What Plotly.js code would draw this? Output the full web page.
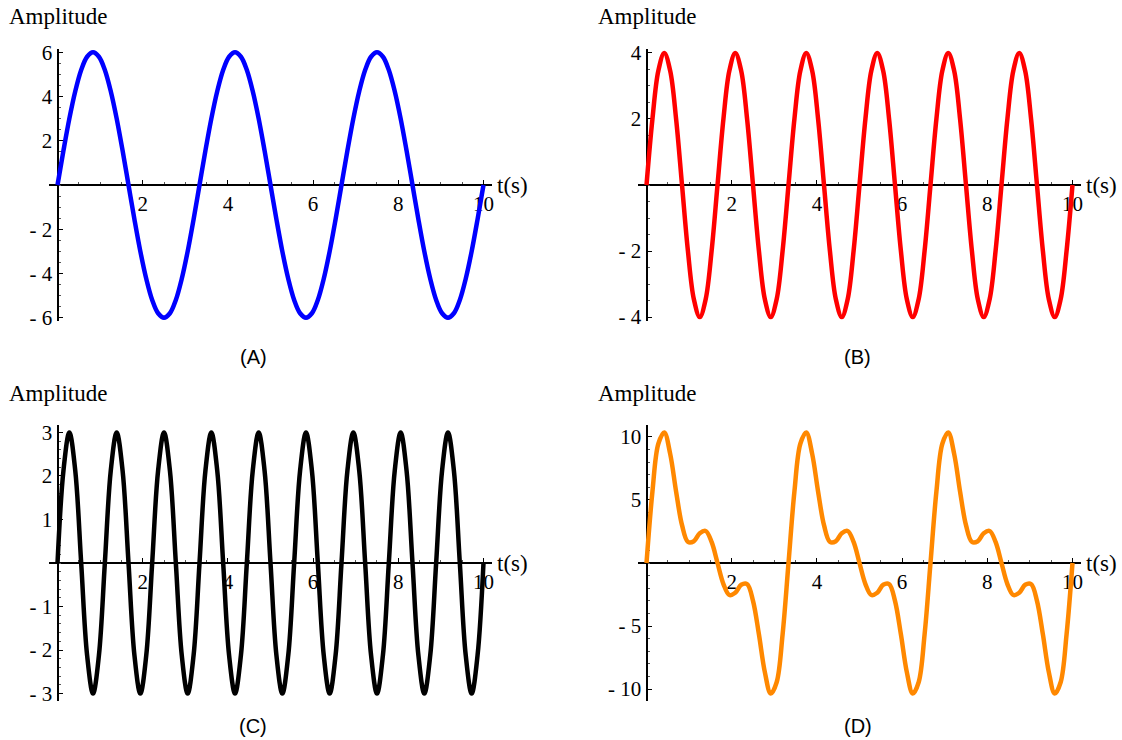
<!DOCTYPE html>
<html>
<head>
<meta charset="utf-8">
<script src="https://cdn.plot.ly/plotly-3.0.1.min.js"></script>
<style>
  html, body { margin: 0; padding: 0; background: #fff; }
  #chart { width: 1122px; height: 740px; }
</style>
</head>
<body>
<div id="chart"></div>
<script>
// Sampled signal values over 0..10 s, taken every 10/72 s.
const T_END = 10;

const waveA = [
  0, 1.55, 3, 4.24, 5.2, 5.8, 6, 5.8, 5.2, 4.24, 3, 1.55, 0, -1.55, -3, -4.24, -5.2, -5.8, -6, -5.8, -5.2, -4.24, -3, -1.55,
  0, 1.55, 3, 4.24, 5.2, 5.8, 6, 5.8, 5.2, 4.24, 3, 1.55, 0, -1.55, -3, -4.24, -5.2, -5.8, -6, -5.8, -5.2, -4.24, -3, -1.55,
  0, 1.55, 3, 4.24, 5.2, 5.8, 6, 5.8, 5.2, 4.24, 3, 1.55, 0, -1.55, -3, -4.24, -5.2, -5.8, -6, -5.8, -5.2, -4.24, -3, -1.55,
  0
];

const waveB = [
  0, 2, 3.46, 4, 3.46, 2, 0, -2, -3.46, -4, -3.46, -2,
  0, 2, 3.46, 4, 3.46, 2, 0, -2, -3.46, -4, -3.46, -2,
  0, 2, 3.46, 4, 3.46, 2, 0, -2, -3.46, -4, -3.46, -2,
  0, 2, 3.46, 4, 3.46, 2, 0, -2, -3.46, -4, -3.46, -2,
  0, 2, 3.46, 4, 3.46, 2, 0, -2, -3.46, -4, -3.46, -2,
  0, 2, 3.46, 4, 3.46, 2, 0, -2, -3.46, -4, -3.46, -2,
  0
];

const waveC = [
  0, 2.12, 3, 2.12, 0, -2.12, -3, -2.12,
  0, 2.12, 3, 2.12, 0, -2.12, -3, -2.12,
  0, 2.12, 3, 2.12, 0, -2.12, -3, -2.12,
  0, 2.12, 3, 2.12, 0, -2.12, -3, -2.12,
  0, 2.12, 3, 2.12, 0, -2.12, -3, -2.12,
  0, 2.12, 3, 2.12, 0, -2.12, -3, -2.12,
  0, 2.12, 3, 2.12, 0, -2.12, -3, -2.12,
  0, 2.12, 3, 2.12, 0, -2.12, -3, -2.12,
  0, 2.12, 3, 2.12, 0, -2.12, -3, -2.12,
  0
];

const waveD = [
  0, 5.67, 9.46, 10.36, 8.66, 5.67, 3, 1.67, 1.73, 2.36, 2.54, 1.67, 0, -1.67, -2.54, -2.36, -1.73, -1.67, -3, -5.67, -8.66, -10.36, -9.46, -5.67,
  0, 5.67, 9.46, 10.36, 8.66, 5.67, 3, 1.67, 1.73, 2.36, 2.54, 1.67, 0, -1.67, -2.54, -2.36, -1.73, -1.67, -3, -5.67, -8.66, -10.36, -9.46, -5.67,
  0, 5.67, 9.46, 10.36, 8.66, 5.67, 3, 1.67, 1.73, 2.36, 2.54, 1.67, 0, -1.67, -2.54, -2.36, -1.73, -1.67, -3, -5.67, -8.66, -10.36, -9.46, -5.67,
  0
];

// Tick values and their labels
const xTicks = [2, 4, 6, 8, 10];
const xTickText = ["2", "4", "6", "8", "10"];
const yTicksA = [-6, -4, -2, 2, 4, 6];
const yTextA = ["- 6", "- 4", "- 2", "2", "4", "6"];
const yTicksB = [-4, -2, 2, 4];
const yTextB = ["- 4", "- 2", "2", "4"];
const yTicksC = [-3, -2, -1, 1, 2, 3];
const yTextC = ["- 3", "- 2", "- 1", "1", "2", "3"];
const yTicksD = [-10, -5, 5, 10];
const yTextD = ["- 10", "- 5", "5", "10"];

const panelLabels = ["(A)", "(B)", "(C)", "(D)"];
const yTitle = "Amplitude";
const xTitle = "t(s)";

// ---- layout helpers ----
const W = 1122, H = 740;
const px = v => v / W;
const py = v => 1 - v / H;

const SERIF = "Liberation Serif, Times New Roman, serif";
const SANS = "Liberation Sans, Arial, sans-serif";

// pixel boxes for each panel: plot area, caption and letter placement
const panels = [
  { wave: waveA, color: "rgb(0,0,255)",   yt: yTicksA, ytx: yTextA, yr: 6.15,  ym: 0.5, xl: 49,  xr: 492,  yt0: 49,  yb0: 321, lx: 253, ly: 357, label: panelLabels[0] },
  { wave: waveB, color: "rgb(255,0,0)",   yt: yTicksB, ytx: yTextB, yr: 4.12,  ym: 0.5, xl: 638, xr: 1081, yt0: 49,  yb0: 321, lx: 858, ly: 357, label: panelLabels[1] },
  { wave: waveC, color: "rgb(0,0,0)",     yt: yTicksC, ytx: yTextC, yr: 3.17,  ym: 0.2, xl: 49,  xr: 492,  yt0: 425, yb0: 701, lx: 253, ly: 726, label: panelLabels[2] },
  { wave: waveD, color: "rgb(255,136,0)", yt: yTicksD, ytx: yTextD, yr: 10.95, ym: 1,   xl: 638, xr: 1081, yt0: 425, yb0: 701, lx: 858, ly: 726, label: panelLabels[3] }
];

const X_RANGE = [-0.2, 10.2];
const traces = [];
const layout = {
  width: W, height: H,
  margin: { l: 0, r: 0, t: 0, b: 0 },
  paper_bgcolor: "#fff",
  plot_bgcolor: "rgba(0,0,0,0)",
  showlegend: false,
  annotations: []
};

panels.forEach((p, i) => {
  const n = i + 1;
  const xa = n === 1 ? "xaxis" : "xaxis" + n;
  const ya = n === 1 ? "yaxis" : "yaxis" + n;
  const xd = [px(p.xl), px(p.xr)];
  const yd = [py(p.yb0), py(p.yt0)];
  const yRange = [-p.yr, p.yr];
  const xZeroPos = xd[0] + (0 - X_RANGE[0]) / (X_RANGE[1] - X_RANGE[0]) * (xd[1] - xd[0]);
  const yZeroPos = yd[0] + (0 - yRange[0]) / (yRange[1] - yRange[0]) * (yd[1] - yd[0]);

  const t = p.wave.map((_, k) => k * T_END / (p.wave.length - 1));
  traces.push({
    x: t, y: p.wave,
    xaxis: "x" + (n === 1 ? "" : n),
    yaxis: "y" + (n === 1 ? "" : n),
    type: "scatter", mode: "lines",
    line: { color: p.color, width: 4.5, shape: "spline", smoothing: 1 },
    hoverinfo: "skip"
  });

  layout[xa] = {
    domain: xd, range: X_RANGE,
    anchor: "free", position: yZeroPos, side: "bottom",
    showgrid: false, zeroline: false,
    showline: true, linecolor: "#000", linewidth: 2,
    ticks: "inside", ticklen: 4, tickwidth: 1, tickcolor: "#000",
    tickmode: "array", tickvals: xTicks, ticktext: xTickText,
    minor: { tick0: 0, dtick: 0.5, ticklen: 2, tickwidth: 1, tickcolor: "#555", ticks: "inside", showgrid: false },
    tickfont: { family: SERIF, size: 21, color: "#000" },
    layer: "below traces", fixedrange: true
  };
  layout[ya] = {
    domain: yd, range: yRange,
    anchor: "free", position: xZeroPos, side: "left",
    showgrid: false, zeroline: false,
    showline: true, linecolor: "#000", linewidth: 2,
    ticks: "inside", ticklen: 4, tickwidth: 1, tickcolor: "#000",
    tickmode: "array", tickvals: p.yt, ticktext: p.ytx,
    minor: { tick0: 0, dtick: p.ym, ticklen: 2, tickwidth: 1, tickcolor: "#555", ticks: "inside", showgrid: false },
    tickfont: { family: SERIF, size: 21, color: "#000" },
    layer: "below traces", fixedrange: true
  };

  // axis captions
  layout.annotations.push({
    xref: "paper", yref: "paper",
    x: px(p.xl - 42), y: py(p.yt0 - 32),
    xanchor: "left", yanchor: "middle",
    text: yTitle, showarrow: false,
    font: { family: SERIF, size: 23, color: "#000" }
  });
  layout.annotations.push({
    xref: "paper", yref: "paper",
    x: px(p.xr + 3), y: yZeroPos,
    xanchor: "left", yanchor: "middle",
    text: xTitle, showarrow: false,
    font: { family: SERIF, size: 23, color: "#000" }
  });
  // panel letter
  layout.annotations.push({
    xref: "paper", yref: "paper",
    x: px(p.lx), y: py(p.ly),
    xanchor: "center", yanchor: "middle",
    text: p.label, showarrow: false,
    font: { family: SANS, size: 20, color: "#000" }
  });
});

Plotly.newPlot("chart", traces, layout, { staticPlot: true, displayModeBar: false });
</script>
</body>
</html>
